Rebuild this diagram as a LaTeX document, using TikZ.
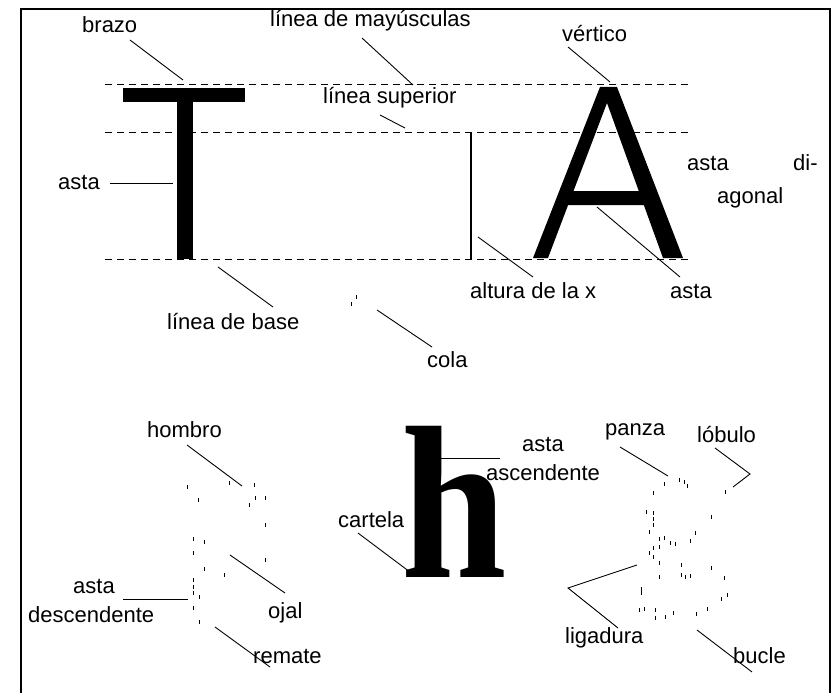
\documentclass[tikz,border=0pt]{standalone}
\usepackage{fontspec}
\usepackage{graphicx}
\setmainfont{Liberation Sans}
\newfontfamily\glyphserif{Liberation Serif}
\begin{document}
\begin{tikzpicture}[x=1pt,y=-1pt,
  lbl/.style={anchor=base west,inner sep=0pt,font=\fontsize{22}{22}\selectfont},
  leader/.style={line width=0.9pt},
  guide/.style={line width=1pt,dash pattern=on 7pt off 5pt},
  faint/.style={line width=0.8pt}]
\useasboundingbox (0,0) rectangle (836,693);

% frame, open at the bottom
\draw[line width=1.6pt] (21,693) -- (21,9) -- (830,9) -- (830,693);

% guide lines: cap line, upper line, baseline
\draw[guide] (105,85) -- (690,85);
\draw[guide] (105,132) -- (690,132);
\draw[guide] (105,259) -- (690,259);

% the letter T
\fill (123,88) rectangle (245,102);
\fill (177,102) rectangle (193,259);

% x-height marker
\draw[line width=1.6pt] (471,133) -- (471,259);

% the letter A
\fill[even odd rule] (533,258) -- (600,87) -- (617,87) -- (683,258) -- (663,258)
  -- (643.8,205) -- (568.1,205) -- (548,258) -- cycle
  (607,103) -- (638.8,191) -- (573.5,191) -- cycle;

% serif h, slightly narrowed
\node[anchor=base west,inner sep=0pt,font=\glyphserif\bfseries\fontsize{218}{218}\selectfont] (hglyph) at (401,577) {\scalebox{0.87}[1]{h}};

% faint marks of the tail
\foreach \p in {(356,297),(351,304)} \draw[faint] \p ++(0,-2) -- ++(0,4);

% faint marks of the single-storey g
\foreach \p in {(187,487),(198,500),(229,483),(254,485),(249,505),(255,498),(265,498),
  (265,525),(193,539),(204,542),(193,553),(204,569),(224,575),(265,560),(193,580),
  (193,587),(193,593),(199,597),(193,608),(199,622)}
  \draw[faint] \p ++(0,-2) -- ++(0,4);

% faint marks of the two-storey g
\foreach \p in {(664,484),(679,480),(684,482),(687,486),(653,493),(725,492),(646,512),
  (653,513),(653,519),(653,525),(711,517),(649,532),(695,533),(664,538),(659,539),
  (670,543),(675,544),(690,541),(659,547),(653,548),(649,553),(653,557),(659,563),
  (681,565),(711,568),(659,577),(681,575),(685,577),(690,576),(724,578),(641,589),
  (641,593),(727,595),(721,599),(639,610),(644,609),(655,610),(673,613),(696,614),
  (707,609),(655,618),(665,617)}
  \draw[faint] \p ++(0,-2) -- ++(0,4);

% labels
\node[lbl] (brazo) at (82,33) {brazo};
\node[lbl] (mayus) at (270,27) {línea de mayúsculas};
\node[lbl] (superior) at (323,103) {línea superior};
\node[lbl] (vertico) at (562,42) {vértico};
\node[lbl] (astaT) at (58,189) {asta};
\node[lbl] (astadi) at (687,170) {asta};
\node[lbl] (di) at (793,170) {di-};
\node[lbl] (agonal) at (717,203) {agonal};
\node[lbl] (base) at (167,329) {línea de base};
\node[lbl] (altura) at (470,298) {altura de la x};
\node[lbl] (astaA) at (670,298) {asta};
\node[lbl] (cola) at (427,367) {cola};
\node[lbl] (hombro) at (147,437) {hombro};
\node[lbl] (cartela) at (338,527) {cartela};
\node[lbl] (astad) at (73,593) {asta};
\node[lbl] (desc) at (28,622) {descendente};
\node[lbl] (ojal) at (268,618) {ojal};
\node[lbl] (remate) at (253,663) {remate};
\node[lbl] (astaa) at (522,451) {asta};
\node[lbl] (asc) at (486,480) {ascendente};
\node[lbl] (panza) at (605,435) {panza};
\node[lbl] (lobulo) at (697,442) {lóbulo};
\node[lbl] (ligadura) at (565,643) {ligadura};
\node[lbl] (bucle) at (733,663) {bucle};

% leader end points
\coordinate (brazoA) at (130,40);   \coordinate (brazoB) at (183,80);
\coordinate (mayusA) at (362,38);   \coordinate (mayusB) at (413,85);
\coordinate (supA) at (380,115);    \coordinate (supB) at (405,128);
\coordinate (vertA) at (568,47);    \coordinate (vertB) at (610,82);
\coordinate (astaTA) at (110,183);  \coordinate (astaTB) at (173,183);
\coordinate (baseA) at (273,307);   \coordinate (baseB) at (218,267);
\coordinate (altA) at (533,277);    \coordinate (altB) at (478,237);
\coordinate (astaAA) at (680,277);  \coordinate (astaAB) at (597,207);
\coordinate (colaA) at (432,347);   \coordinate (colaB) at (377,310);
\coordinate (hombA) at (187,445);   \coordinate (hombB) at (242,486);
\coordinate (cartA) at (358,533);   \coordinate (cartB) at (410,572);
\coordinate (descA) at (123,599);   \coordinate (descB) at (188,599);
\coordinate (ojalA) at (285,593);   \coordinate (ojalB) at (230,555);
\coordinate (remA) at (270,667);    \coordinate (remB) at (215,627);
\coordinate (ascA) at (500,458);    \coordinate (ascB) at (435,458);
\coordinate (panzA) at (620,447);   \coordinate (panzB) at (668,476);
\coordinate (lobA) at (715,448);    \coordinate (lobK) at (750,474);  \coordinate (lobB) at (733,487);
\coordinate (ligA) at (637,565);    \coordinate (ligK) at (568,588);  \coordinate (ligB) at (618,628);
\coordinate (bucA) at (752,672);    \coordinate (bucB) at (697,630);

% leaders
\draw[leader] (brazoA) -- (brazoB);
\draw[leader] (mayusA) -- (mayusB);
\draw[leader] (supA) -- (supB);
\draw[leader] (vertA) -- (vertB);
\draw[leader] (astaTA) -- (astaTB);
\draw[leader] (baseA) -- (baseB);
\draw[leader] (altA) -- (altB);
\draw[leader] (astaAA) -- (astaAB);
\draw[leader] (colaA) -- (colaB);
\draw[leader] (hombA) -- (hombB);
\draw[leader] (cartA) -- (cartB);
\draw[leader] (descA) -- (descB);
\draw[leader] (ojalA) -- (ojalB);
\draw[leader] (remA) -- (remB);
\draw[leader] (ascA) -- (ascB);
\draw[leader] (panzA) -- (panzB);
\draw[leader] (lobA) -- (lobK) -- (lobB);
\draw[leader] (ligA) -- (ligK) -- (ligB);
\draw[leader] (bucA) -- (bucB);
\end{tikzpicture}
\end{document}
